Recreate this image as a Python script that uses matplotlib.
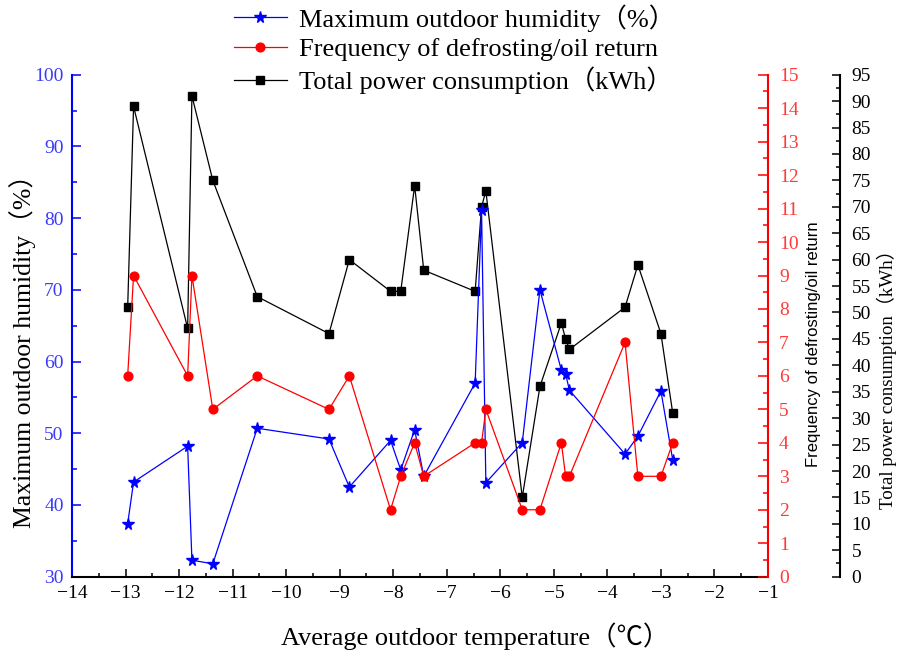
import matplotlib.pyplot as plt
from matplotlib.ticker import MultipleLocator

# values
temp = [-12.96, -12.85, -11.84, -11.76, -11.37, -10.54, -9.20, -8.82,
        -8.05, -7.86, -7.60, -7.43, -6.47, -6.35, -6.27, -5.59,
        -5.26, -4.86, -4.78, -4.71, -3.67, -3.43, -3.00, -2.78]
humidity = [37.4, 43.2, 48.2, 32.3, 31.8, 50.7, 49.2, 42.5,
            49.0, 44.9, 50.5, 44.0, 57.0, 81.1, 43.1, 48.7,
            70.0, 58.8, 58.3, 56.0, 47.1, 49.6, 55.9, 46.3]
defrost = [6, 9, 6, 9, 5, 6, 5, 6,
           2, 3, 4, 3, 4, 4, 5, 2,
           2, 4, 3, 3, 7, 3, 3, 4]
power = [51, 89, 47, 91, 75, 53, 46, 60,
         54, 54, 74, 58, 54, 70, 73, 15,
         36, 48, 45, 43, 51, 59, 46, 31]

serif = ['Liberation Serif', 'Noto Sans CJK SC', 'DejaVu Sans']
plt.rcParams['font.family'] = serif
plt.rcParams['axes.unicode_minus'] = True

fig = plt.figure(figsize=(8.98, 6.52), dpi=100)
ax = fig.add_axes([72/898, 1-576.7/652, 696/898, 502/652])
ax2 = ax.twinx()
ax3 = ax.twinx()
ax3.spines['right'].set_position(('axes', 1.104))

# draw order: black below blue, red on top
ax3.set_zorder(1)
ax.set_zorder(2)
ax2.set_zorder(3)
for a in (ax, ax2, ax3):
    a.patch.set_visible(False)

l3, = ax3.plot(temp, power, color='black', lw=0.9, marker='s', ms=5.8,
               label='Total power consumption（kWh）')
l1, = ax.plot(temp, humidity, color='blue', lw=0.9, marker='*', ms=8.5,
              label='Maximum outdoor humidity（%）')
l2, = ax2.plot(temp, defrost, color='red', lw=0.9, marker='o', ms=6.3,
               label='Frequency of defrosting/oil return')

ax.set_xlim(-14, -1)
ax.set_ylim(30, 100)
ax2.set_ylim(0, 15)
ax3.set_ylim(0, 95)

ax.xaxis.set_major_locator(MultipleLocator(1))
ax.xaxis.set_minor_locator(MultipleLocator(0.5))
ax.yaxis.set_major_locator(MultipleLocator(10))
ax.yaxis.set_minor_locator(MultipleLocator(5))
ax2.yaxis.set_major_locator(MultipleLocator(1))
ax2.yaxis.set_minor_locator(MultipleLocator(0.5))
ax3.yaxis.set_major_locator(MultipleLocator(5))
ax3.yaxis.set_minor_locator(MultipleLocator(2.5))

ax.spines['top'].set_visible(False)
ax.spines['right'].set_visible(False)
ax.spines['left'].set_color('blue')
for a in (ax2, ax3):
    a.spines['top'].set_visible(False)
    a.spines['left'].set_visible(False)
    a.spines['bottom'].set_visible(False)
ax2.spines['right'].set_color('red')
for sp in ('left', 'bottom'):
    ax.spines[sp].set_linewidth(1.5)
ax2.spines['right'].set_linewidth(1.5)
ax3.spines['right'].set_linewidth(1.5)

ax.tick_params(axis='x', which='both', direction='in', width=1.1, labelsize=14, pad=6)
ax.tick_params(axis='x', which='major', length=6)
ax.tick_params(axis='x', which='minor', length=3)
ax.tick_params(axis='y', which='both', direction='in', width=1.1, colors='blue',
               labelsize=14, pad=6)
ax.tick_params(axis='y', which='major', length=6.5)
ax.tick_params(axis='y', which='minor', length=3.5)
ax.tick_params(axis='y', labelcolor='#3a3aff')
ax2.tick_params(axis='y', which='both', direction='in', width=1.1, colors='red',
                labelsize=14, pad=8)
ax2.tick_params(axis='y', which='major', length=7)
ax2.tick_params(axis='y', which='minor', length=3.5)
ax2.tick_params(axis='y', labelcolor='#ff3a3a')
ax3.tick_params(axis='y', which='both', direction='in', width=1.1, colors='black',
                labelsize=14, pad=8)
ax3.tick_params(axis='y', which='major', length=6)
ax3.tick_params(axis='y', which='minor', length=3)

ax.set_xlabel('Average outdoor temperature（℃）', fontsize=19, va='center')
ax.xaxis.set_label_coords(0.579, -0.118)
ax.set_ylabel('Maximum outdoor humidity（%）', fontsize=18.5, va='center')
ax.yaxis.set_label_coords(-0.0704, 0.4616)
ax2.set_ylabel('Frequency of defrosting/oil return', fontsize=12,
               family=['Liberation Sans', 'DejaVu Sans'], va='center')
ax2.yaxis.set_label_coords(1.066, 0.4635)
ax3.set_ylabel('Total power consumption（kWh）', fontsize=13.7, va='center')
ax3.yaxis.set_label_coords(1.171, 0.402)

fig.legend(handles=[l1, l2, l3], loc='upper left', bbox_to_anchor=(230/898, 1.0),
           frameon=False, fontsize=19, handlelength=2.0, handletextpad=0.45,
           labelspacing=0.22, borderpad=0.15, borderaxespad=0)

fig.savefig('out.png', dpi=100)
